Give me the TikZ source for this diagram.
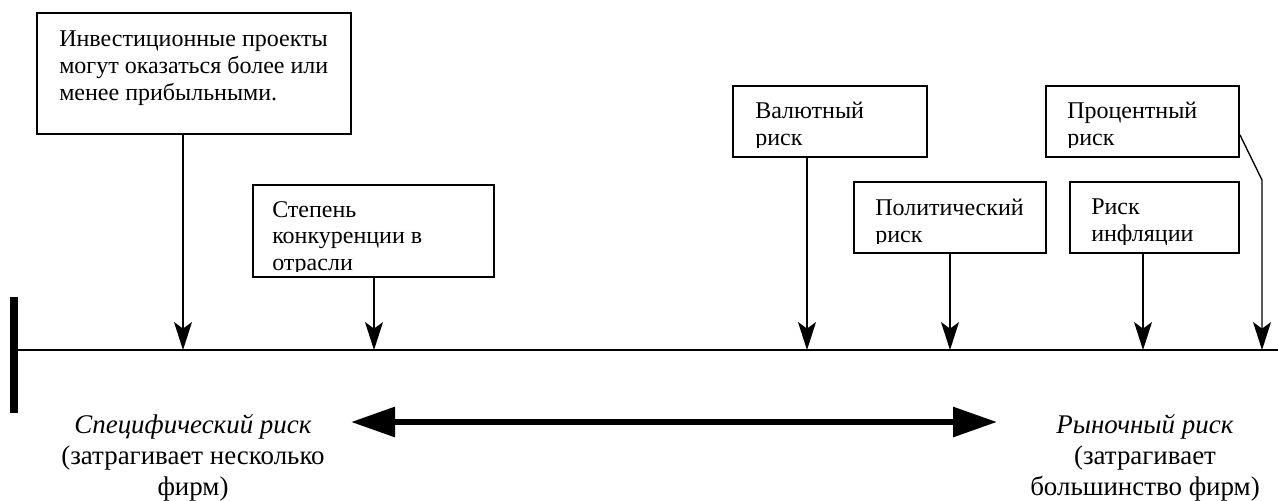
\documentclass[tikz,border=0pt]{standalone}
\usepackage{fontspec}
\setmainfont{Liberation Serif}
\usetikzlibrary{arrows.meta,fit}
\begin{document}
\begin{tikzpicture}[x=0.75pt,y=-0.75pt,
  box/.style={draw, line width=1.4pt, inner sep=0pt},
  boxtext/.style={anchor=north west, inner sep=0pt, align=left,
    font=\fontsize{18}{20}\selectfont},
  feed/.style={line width=1pt, -{Stealth[length=21pt,width=13.5pt,inset=5pt]}},
  riskside/.style={align=center, inner sep=0pt, anchor=north,
    font=\fontsize{20.2}{23.25}\selectfont},
  span/.style={line width=4.5pt,
    {Triangle[length=33pt,width=21.75pt]}-{Triangle[length=33pt,width=21.75pt]}}]
\useasboundingbox (0,0) rectangle (1278,500);

% scale of risk: axis and its left end mark
\coordinate (axL) at (14,350);
\coordinate (axR) at (1278,350);
\draw[line width=1.4pt] (axL) -- (axR);
\draw[line width=6pt] (14,297) -- (14,413);

% risk factors
\node[box, fit={(37,13) (351,134)}] (b1) {};
\begin{scope}
  \clip (37,13) rectangle (351,134);
  \node[boxtext] (t1) at (59,31) {Инвестиционные проекты\\могут оказаться более или\\менее прибыльными.};
\end{scope}

\node[box, fit={(253,185) (494,277)}] (b2) {};
\begin{scope}
  \clip (253,185) rectangle (494,271);
  \node[boxtext] (t2) at (272,201) {Степень\\конкуренции в\\отрасли};
\end{scope}

\node[box, fit={(733,86) (927,157)}] (b3) {};
\begin{scope}
  \clip (733,86) rectangle (927,147);
  \node[boxtext] (t3) at (755,102) {Валютный\\риск};
\end{scope}

\node[box, fit={(854,182) (1046,253)}] (b4) {};
\begin{scope}
  \clip (854,182) rectangle (1046,243);
  \node[boxtext] (t4) at (875,199) {Политический\\риск};
\end{scope}

\node[box, fit={(1046,86) (1239,157)}] (b5) {};
\begin{scope}
  \clip (1046,86) rectangle (1239,147);
  \node[boxtext] (t5) at (1067,102) {Процентный\\риск};
\end{scope}

\node[box, fit={(1070,182) (1239,253)}] (b6) {};
\begin{scope}
  \clip (1070,182) rectangle (1239,244);
  \node[boxtext] (t6) at (1091,199) {Риск\\инфляции};
\end{scope}

% where each factor meets the axis
\coordinate (a1) at (183,350);
\coordinate (a2) at (374,350);
\coordinate (a3) at (807,350);
\coordinate (a4) at (950,350);
\coordinate (a6) at (1143,350);
\coordinate (a5) at (1262,350);
\coordinate (k5) at (1262,180);

\draw[feed] (b1.south -| a1) -- (a1);
\draw[feed] (b2.south -| a2) -- (a2);
\draw[feed] (b3.south -| a3) -- (a3);
\draw[feed] (b4.south -| a4) -- (a4);
\draw[feed] (b6.south -| a6) -- (a6);
\draw[feed] ([yshift=-10pt]b5.east) -- (k5) -- (a5);

% the two ends of the scale
\node[riskside] (spec) at (193,414) {\textit{Специфический риск}\\(затрагивает несколько\\фирм)};
\node[riskside] (mkt) at (1145,414) {\textit{Рыночный риск}\\(затрагивает\\большинство фирм)};
\coordinate (sL) at (351,422);
\coordinate (sR) at (997,422);
\draw[span] (sL) -- (sR);
\end{tikzpicture}
\end{document}
